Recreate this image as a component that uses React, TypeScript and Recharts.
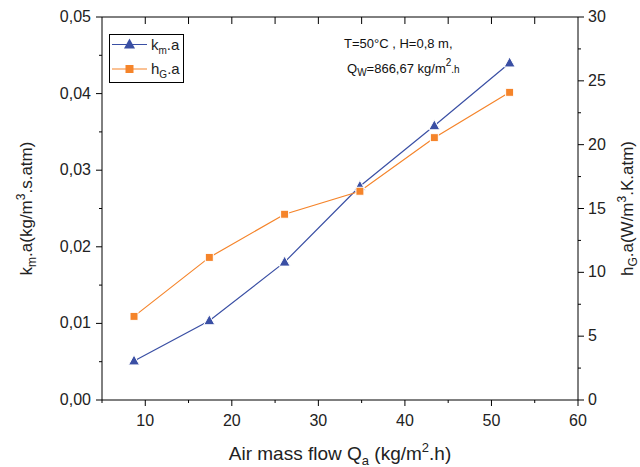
import React from 'react'
import { LineChart, Line, XAxis, YAxis } from 'recharts'

const airFlow = [8.7, 17.4, 26.1, 34.8, 43.4, 52.1]
const kmA = [0.0051, 0.01035, 0.018, 0.0279, 0.0358, 0.044]
const hgA = [6.55, 11.17, 14.55, 16.35, 20.55, 24.1]

const X_TICKS = [5, 10, 15, 20, 25, 30, 35, 40, 45, 50, 55, 60]
const TOP_TICKS = [10, 15, 20, 25, 30, 35, 40, 45, 50, 55]
const LEFT_TICKS = [0, 0.005, 0.01, 0.015, 0.02, 0.025, 0.03, 0.035, 0.04, 0.045, 0.05]
const RIGHT_TICKS = [0, 2.5, 5, 7.5, 10, 12.5, 15, 17.5, 20, 22.5, 25, 27.5, 30]

const BLUE = '#3A4FA4'
const ORANGE = '#F5842A'
const FONT = '"Liberation Sans", Arial, sans-serif'

// plot box, shared by the chart margins and the top-frame ticks
const PLOT_LEFT = 102
const PLOT_RIGHT = 578
const PLOT_TOP = 17
const X_MIN = 5
const X_MAX = 60

const rows = airFlow.map((x, i) => ({ x, km: kmA[i], hg: hgA[i] }))

const XTick = (props: any) => {
  const { x, y, payload } = props
  const major = payload.value % 10 === 0
  return (
    <g>
      <line x1={x} x2={x} y1={y} y2={y + (major ? 6 : 3)} stroke="#000" />
      {major && (
        <text x={x} y={y + 26} textAnchor="middle" fontSize={16} fontFamily={FONT} fill="#222">
          {payload.value}
        </text>
      )}
    </g>
  )
}

const LeftTick = (props: any) => {
  const { x, y, payload } = props
  const major = Math.round(payload.value * 1000) % 10 === 0
  return (
    <g>
      <line x1={x - (major ? 6 : 3)} x2={x} y1={y} y2={y} stroke="#000" />
      {major && (
        <text x={x - 11} y={y + 5} textAnchor="end" fontSize={16} fontFamily={FONT} fill="#222">
          {payload.value.toFixed(2).replace('.', ',')}
        </text>
      )}
    </g>
  )
}

const RightTick = (props: any) => {
  const { x, y, payload } = props
  const major = payload.value % 5 === 0
  return (
    <g>
      <line x1={x} x2={x + (major ? 6 : 3)} y1={y} y2={y} stroke="#000" />
      {major && (
        <text x={x + 10} y={y + 5} textAnchor="start" fontSize={16} fontFamily={FONT} fill="#222">
          {payload.value}
        </text>
      )}
    </g>
  )
}

const Triangle = (props: any) => {
  const { cx, cy } = props
  if (cx == null || cy == null) return null
  return (
    <path
      d={`M${cx},${cy - 6} L${cx + 5.5},${cy + 4} L${cx - 5.5},${cy + 4} Z`}
      fill={BLUE}
      stroke="#fff"
      strokeWidth={1}
    />
  )
}

const Square = (props: any) => {
  const { cx, cy } = props
  if (cx == null || cy == null) return null
  return <rect x={cx - 4} y={cy - 4} width={8} height={8} fill={ORANGE} stroke="#fff" strokeWidth={1} />
}

const XTitle = (props: any) => {
  const { viewBox } = props
  const cx = viewBox.x + viewBox.width / 2
  return (
    <text x={cx} y={460} textAnchor="middle" fontSize={19} fontFamily={FONT} fill="#222">
      Air mass flow Q<tspan dy={5} fontSize={13}>a</tspan>
      <tspan dy={-5}> (kg/m</tspan>
      <tspan dy={-8} fontSize={13}>2</tspan>
      <tspan dy={8}>.h)</tspan>
    </text>
  )
}

const LeftTitle = (props: any) => {
  const { viewBox } = props
  const cy = viewBox.y + viewBox.height / 2
  return (
    <text x={32} y={cy} transform={`rotate(-90 32 ${cy})`} textAnchor="middle" fontSize={17} fontFamily={FONT} fill="#222">
      k<tspan dy={4} fontSize={12}>m</tspan>
      <tspan dy={-4}>.a(kg/m</tspan>
      <tspan dy={-7} fontSize={12}>3</tspan>
      <tspan dy={7}>.s.atm)</tspan>
    </text>
  )
}

const RightTitle = (props: any) => {
  const { viewBox } = props
  const cy = viewBox.y + viewBox.height / 2
  return (
    <text x={633} y={cy} transform={`rotate(-90 633 ${cy})`} textAnchor="middle" fontSize={17} fontFamily={FONT} fill="#222">
      h<tspan dy={4} fontSize={12}>G</tspan>
      <tspan dy={-4}>.a(W/m</tspan>
      <tspan dy={-7} fontSize={12}>3</tspan>
      <tspan dy={7}>.K.atm)</tspan>
    </text>
  )
}

const topTickX = (t: number) => PLOT_LEFT + ((t - X_MIN) / (X_MAX - X_MIN)) * (PLOT_RIGHT - PLOT_LEFT)

export default function App() {
  return (
    <div style={{ position: 'absolute', left: 0, top: 0, width: 640, height: 467, background: '#fff' }}>
      <LineChart width={640} height={467} data={rows} margin={{ top: PLOT_TOP - 1, right: 0, bottom: 0, left: 0 }}>
        <XAxis
          xAxisId="bottom"
          dataKey="x"
          type="number"
          domain={[X_MIN, X_MAX]}
          ticks={X_TICKS}
          interval={0}
          height={67}
          tickSize={0}
          tickMargin={0}
          tickLine={false}
          tick={<XTick />}
          axisLine={{ stroke: '#000' }}
          label={<XTitle />}
        />
        <XAxis
          xAxisId="top"
          orientation="top"
          dataKey="x"
          type="number"
          domain={[X_MIN, X_MAX]}
          ticks={X_TICKS}
          interval={0}
          height={1}
          tick={false}
          tickLine={false}
          axisLine={{ stroke: '#000' }}
        />
        <YAxis
          yAxisId="left"
          type="number"
          domain={[0, 0.05]}
          ticks={LEFT_TICKS}
          interval={0}
          width={PLOT_LEFT}
          tickSize={0}
          tickMargin={0}
          tickLine={false}
          tick={<LeftTick />}
          axisLine={{ stroke: '#000' }}
          label={<LeftTitle />}
        />
        <YAxis
          yAxisId="right"
          orientation="right"
          type="number"
          domain={[0, 30]}
          ticks={RIGHT_TICKS}
          interval={0}
          width={640 - PLOT_RIGHT}
          tickSize={0}
          tickMargin={0}
          tickLine={false}
          tick={<RightTick />}
          axisLine={{ stroke: '#000' }}
          label={<RightTitle />}
        />
        <Line
          xAxisId="bottom"
          yAxisId="left"
          dataKey="km"
          type="linear"
          stroke={BLUE}
          strokeWidth={1.2}
          dot={<Triangle />}
          activeDot={false}
          isAnimationActive={false}
        />
        <Line
          xAxisId="bottom"
          yAxisId="right"
          dataKey="hg"
          type="linear"
          stroke={ORANGE}
          strokeWidth={1.2}
          dot={<Square />}
          activeDot={false}
          isAnimationActive={false}
        />
      </LineChart>
      <svg
        width={640}
        height={467}
        style={{ position: 'absolute', left: 0, top: 0, pointerEvents: 'none' }}
        fontFamily={FONT}
      >
        {TOP_TICKS.map((t) => (
          <line key={t} x1={topTickX(t)} x2={topTickX(t)} y1={PLOT_TOP} y2={PLOT_TOP + 7} stroke="#000" />
        ))}
        <rect x={109.5} y={34.5} width={74} height={48} fill="#fff" stroke="#000" strokeWidth={1} />
        <line x1={112} x2={147} y1={44.5} y2={44.5} stroke={BLUE} strokeWidth={1.2} />
        <path d="M129.5,38.5 L135,48.5 L124,48.5 Z" fill={BLUE} />
        <text x={151} y={50} fontSize={15} fill="#222">
          k<tspan dy={4} fontSize={10}>m</tspan>
          <tspan dy={-4}>.a</tspan>
        </text>
        <line x1={112} x2={147} y1={69} y2={69} stroke={ORANGE} strokeWidth={1.2} />
        <rect x={125.5} y={65} width={8} height={8} fill={ORANGE} />
        <text x={151} y={74} fontSize={15} fill="#222">
          h<tspan dy={4} fontSize={10}>G</tspan>
          <tspan dy={-4}>.a</tspan>
        </text>
        <text x={344} y={48} fontSize={13} fill="#111">
          T=50°C , H=0,8 m,
        </text>
        <text x={347} y={73} fontSize={13} fill="#111">
          Q<tspan dy={3} fontSize={10}>W</tspan>
          <tspan dy={-3}>=866,67 kg/m</tspan>
          <tspan dy={-7} fontSize={10}>2</tspan>
          <tspan dy={7} fontSize={10}>.h</tspan>
        </text>
      </svg>
    </div>
  )
}
